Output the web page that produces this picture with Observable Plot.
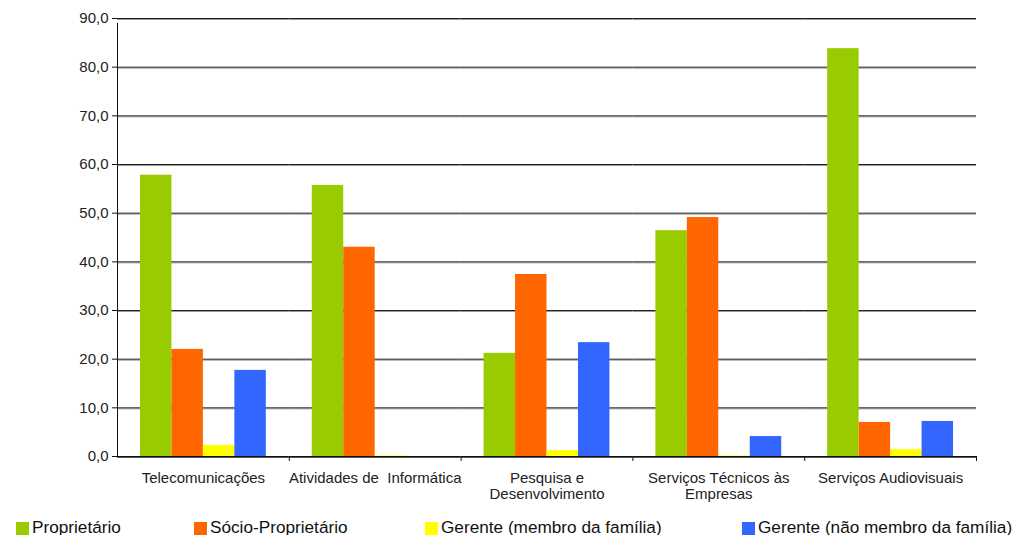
<!DOCTYPE html>
<html><head><meta charset="utf-8">
<script src="https://cdn.jsdelivr.net/npm/d3@7"></script>
<script src="https://cdn.jsdelivr.net/npm/@observablehq/plot@0.6"></script>
<style>
body{margin:0;background:#fff;font-family:"Liberation Sans",Arial,sans-serif;}
#wrap{width:1016px;position:relative;}
svg text{white-space:pre;}
#legend{position:relative;height:23px;width:1016px;font-size:17.2px;color:#111;}
#legend .sw{position:absolute;top:10px;width:13px;height:13px;}
#legend .lb{position:absolute;top:7px;line-height:17px;white-space:nowrap;}
</style></head>
<body><div id="wrap"><div id="chart"></div><div id="legend"></div></div>
<script>
const categories = ["Telecomunicações", "Atividades de  Informática", "Pesquisa e\nDesenvolvimento", "Serviços Técnicos às\nEmpresas", "Serviços Audiovisuais"];
const series = ["Proprietário", "Sócio-Proprietário", "Gerente (membro da família)", "Gerente (não membro da família)"];
const proprietario = [57.8, 55.7, 21.2, 46.4, 83.8];
const socioProprietario = [22.0, 43.0, 37.4, 49.1, 7.0];
const gerenteFamilia = [2.3, 0.1, 1.2, 0.1, 1.4];
const gerenteNaoFamilia = [17.7, 0, 23.4, 4.1, 7.2];
const colors = ["#99CC00", "#FF6600", "#FFFF00", "#3366FF"];
const yTicks = [0, 10, 20, 30, 40, 50, 60, 70, 80, 90];
const legendX = [16, 194, 425, 742];

const valuesBySeries = [proprietario, socioProprietario, gerenteFamilia, gerenteNaoFamilia];
const data = [];
categories.forEach((c, i) => series.forEach((s, j) => data.push({cat: c, series: s, value: valuesBySeries[j][i]})));

const W = 1016, H = 512, mL = 117, mR = 40, mT = 18, mB = 56;
const outer = 0.73;
const facetW = (W - mL - mR) / categories.length;
const step = facetW / (series.length + 2 * outer);
const edge = step / 2 + outer * step;
const font = "Liberation Sans, Arial, sans-serif";

const chart = Plot.plot({
  width: W, height: H,
  marginLeft: mL, marginRight: mR, marginTop: mT, marginBottom: mB,
  style: {fontFamily: font, background: "#fff", color: "#222"},
  fx: {domain: categories, padding: 0, round: false},
  x: {domain: series, paddingInner: 0, paddingOuter: outer, round: false, axis: null},
  y: {domain: [0, 90], axis: null},
  color: {domain: series, range: colors},
  marks: [
    Plot.ruleY(yTicks.slice(1), {stroke: "#999", strokeWidth: 1, dy: 1}),
    Plot.ruleY(yTicks.slice(1), {stroke: "#222", strokeWidth: 1}),
    Plot.barY(data, {fx: "cat", x: "series", y: "value", fill: "series", inset: 0}),
    Plot.ruleY([0], {stroke: "#555", strokeWidth: 1, dy: 1}),
    Plot.ruleY([0], {stroke: "#111", strokeWidth: 1}),
    // y-axis line in first facet
    Plot.ruleX([categories[0]], {fx: d => d, x: () => series[0], dx: -edge, y1: 0, y2: 90, stroke: "#111", insetBottom: -5}),
    // group boundary ticks
    Plot.ruleX(categories.slice(1), {fx: d => d, x: () => series[0], dx: -edge, y1: 0, y2: 0, insetBottom: -5, stroke: "#111"}),
    Plot.ruleX([categories[categories.length - 1]], {fx: d => d, x: () => series[series.length - 1], dx: edge, y1: 0, y2: 0, insetBottom: -5, stroke: "#111"}),
    Plot.axisY({ticks: yTicks, tickFormat: d => d.toFixed(1).replace(".", ","), tickSize: 5, tickPadding: 4, fontSize: 15, label: null, anchor: "left", stroke: "#111"}),
    Plot.axisFx({anchor: "bottom", tickSize: 0, tickPadding: 14, fontSize: 15, lineHeight: 1.13, label: null})
  ]
});
document.getElementById("chart").appendChild(chart);

const legend = document.getElementById("legend");
series.forEach((s, j) => {
  const sw = document.createElement("div");
  sw.className = "sw"; sw.style.left = legendX[j] + "px"; sw.style.background = colors[j];
  const lb = document.createElement("div");
  lb.className = "lb"; lb.style.left = (legendX[j] + 16) + "px"; lb.textContent = s;
  legend.appendChild(sw); legend.appendChild(lb);
});
</script>
</body></html>
